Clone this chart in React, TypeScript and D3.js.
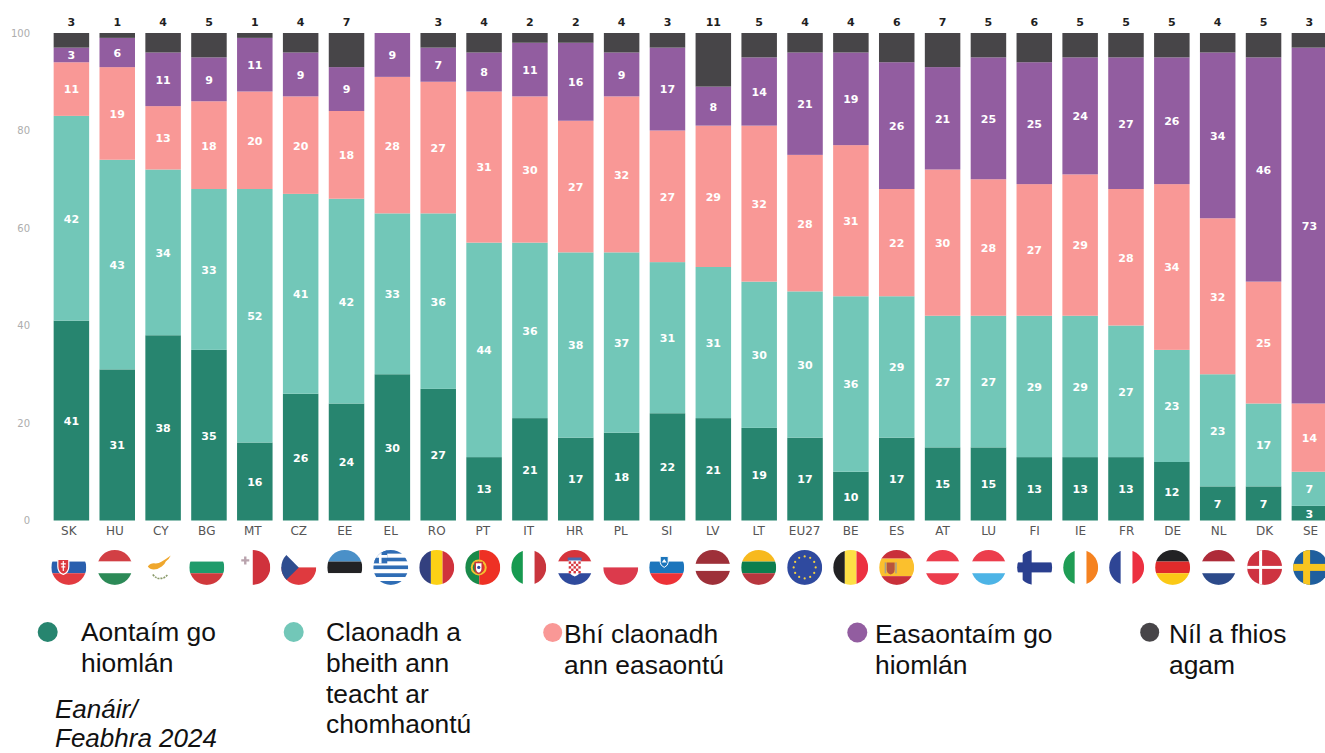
import React from "react";
import * as d3 from "d3";

const countries = ["SK","HU","CY","BG","MT","CZ","EE","EL","RO","PT","IT","HR","PL","SI","LV","LT","EU27","BE","ES","AT","LU","FI","IE","FR","DE","NL","DK","SE"];
const totallyAgree =    [41,31,38,35,16,26,24,30,27,13,21,17,18,22,21,19,17,10,17,15,15,13,13,13,12,7,7,3];
const tendToAgree =     [42,43,34,33,52,41,42,33,36,44,36,38,37,31,31,30,30,36,29,27,27,29,29,27,23,23,17,7];
const tendToDisagree =  [11,19,13,18,20,20,18,28,27,31,30,27,32,27,29,32,28,31,22,30,28,27,29,28,34,32,25,14];
const totallyDisagree = [3,6,11,9,11,9,9,9,7,8,11,16,9,17,8,14,21,19,26,21,25,25,24,27,26,34,46,73];
const dontKnow =        [3,1,4,5,1,4,7,0,3,4,2,2,4,3,11,5,4,4,6,7,5,6,5,5,5,4,5,3];
const yTicks = [0,20,40,60,80,100];
const seriesKeys = ["a","b","c","d","e"];
const seriesColors = ["#27856f","#72c7b8","#f99896","#925da0","#474548"];

const legendLabels = [
  { lines: ["Aontaím go","hiomlán"], dot: [47.7,632,10], x: 81, y: 641 },
  { lines: ["Claonadh a","bheith ann","teacht ar","chomhaontú"], dot: [293.7,632,10], x: 326, y: 641 },
  { lines: ["Bhí claonadh","ann easaontú"], dot: [552.7,632.5,9.5], x: 564, y: 643 },
  { lines: ["Easaontaím go","hiomlán"], dot: [857.3,632.5,10], x: 875, y: 643 },
  { lines: ["Níl a fhios","agam"], dot: [1149.7,632.3,9.5], x: 1169, y: 643 },
];
const periodLines = ["Eanáir/","Feabhra 2024"];

type Stripe = { dir: "h" | "v"; colors: string[]; weights?: number[] };
const W = "#ffffff";
const stripes: Record<string, Stripe> = {
  SK: { dir:"h", colors:[W,"#2a5fae","#e23b40"] },
  HU: { dir:"h", colors:["#d23f44",W,"#2c8a57"] },
  CY: { dir:"h", colors:[W] },
  BG: { dir:"h", colors:[W,"#1f9b6b","#d0393c"] },
  MT: { dir:"v", colors:[W,"#d0323c"] },
  CZ: { dir:"h", colors:[W,"#df3a3f"] },
  EE: { dir:"h", colors:["#4a90c8","#222224",W] },
  EL: { dir:"h", colors:["#2f6db5",W,"#2f6db5",W,"#2f6db5",W,"#2f6db5",W,"#2f6db5"] },
  RO: { dir:"v", colors:["#33407f","#fcd116","#d0323c"] },
  PT: { dir:"v", colors:["#1a8a4a","#ee3124"], weights:[2,3] },
  IT: { dir:"v", colors:["#179a50",W,"#c9353d"] },
  HR: { dir:"h", colors:["#d5343c",W,"#2f4a9c"] },
  PL: { dir:"h", colors:[W,"#dc3a4c"] },
  SI: { dir:"h", colors:[W,"#1c75bc","#ed3237"] },
  LV: { dir:"h", colors:["#9e3039",W,"#9e3039"], weights:[2,1,2] },
  LT: { dir:"h", colors:["#f7b91e","#0d7e4e","#b7363e"] },
  EU27: { dir:"h", colors:["#2f4a9f"] },
  BE: { dir:"v", colors:["#222224","#fde046","#ec3040"] },
  ES: { dir:"h", colors:["#c9303a","#fbc02d","#c9303a"], weights:[1,2,1] },
  AT: { dir:"h", colors:["#ec3d4c",W,"#ec3d4c"] },
  LU: { dir:"h", colors:["#ec3d4c",W,"#4db4e6"] },
  FI: { dir:"h", colors:[W] },
  IE: { dir:"v", colors:["#1f9d55",W,"#f58220"] },
  FR: { dir:"v", colors:["#2e4595",W,"#ec3040"] },
  DE: { dir:"h", colors:["#222224","#e02b2b","#fbc916"] },
  NL: { dir:"h", colors:["#ae2b38",W,"#2c4a8a"] },
  DK: { dir:"h", colors:["#ce3340"] },
  SE: { dir:"h", colors:["#1f5f9e"] },
};

const R = 17.5;

function FlagExtras({ code }: { code: string }) {
  switch (code) {
    case "SK":
      return <g>
        <path d="M-11,-8 h11 v7 q0,6 -5.5,8 q-5.5,-2 -5.5,-8z" fill="#dd3a40" stroke="#fff" strokeWidth={1.2}/>
        <path d="M-5.5,-6.5 v10 M-8,-3.5 h5 M-7.5,-0.5 h4" stroke="#fff" strokeWidth={1.2}/>
      </g>;
    case "CY":
      return <g>
        <path d="M-13,-1 q3,-4 8,-3 q3,0 6,-2 q5,-3 9,-6 q-2,4 -5,6 q-1,3 -4,5 q-4,3 -8,3 q-4,0 -6,-3z" fill="#efa72d"/>
        <path d="M-8,7 q4,5 8,4 q4,0 7,-4" fill="none" stroke="#8a9a6a" strokeWidth={1.6} strokeDasharray="2 1"/>
      </g>;
    case "MT":
      return <path d="M-7.5,-11 v8 M-11.5,-7 h8" stroke="#b9a3ad" strokeWidth={2.4}/>;
    case "CZ":
      return <path d="M-18,-18 L0,0 L-18,18z" fill="#2f4d8f"/>;
    case "EL":
      return <g>
        <rect x={-18} y={-18} width={14.5} height={14} fill="#2f6db5"/>
        <path d="M-10.5,-18 v14 M-18,-11 h14.5" stroke="#fff" strokeWidth={2.6}/>
      </g>;
    case "PT":
      return <g>
        <circle cx={-4} cy={0} r={7} fill="none" stroke="#f2c230" strokeWidth={2}/>
        <path d="M-7.5,-5 h7 v6 q0,4 -3.5,5 q-3.5,-1 -3.5,-5z" fill="#fff" stroke="#c9353d" strokeWidth={1.5}/>
        <circle cx={-4} cy={0} r={1.6} fill="#2f4a9c"/>
      </g>;
    case "HR": {
      const cells = d3.cross(d3.range(5), d3.range(5));
      return <g>
        <path d="M-6,-8 h12 v10 q0,5 -6,7 q-6,-2 -6,-7z" fill="#fff"/>
        {cells.map(([i, j]) => (i + j) % 2 === 0
          ? <rect key={`${i}-${j}`} x={-6 + i * 2.4} y={-6 + j * 2.4} width={2.4} height={2.4} fill="#d5343c"/> : null)}
        <path d="M-7,-10 h14 v3 h-14z" fill="#4a6ab0"/>
      </g>;
    }
    case "SI":
      return <g>
        <path d="M-6.5,-11 h8 v6 q0,3 -4,5 q-4,-2 -4,-5z" fill="#1c75bc" stroke="#fff" strokeWidth={1}/>
        <path d="M-5,-5 l2.5,-3.5 l2.5,3.5z" fill="#fff"/>
      </g>;
    case "EU27":
      return <g>
        {d3.range(12).map(i => {
          const a = (i / 12) * 2 * Math.PI;
          return <circle key={i} cx={11 * Math.sin(a)} cy={-11 * Math.cos(a)} r={1.1} fill="#f3d040"/>;
        })}
      </g>;
    case "ES":
      return <g>
        <path d="M-10,-5 h8 v7 q0,4 -4,5 q-4,-1 -4,-5z" fill="#b8553c"/>
        <rect x={-12} y={-5} width={1.6} height={11} fill="#a9a089"/>
        <rect x={-1.5} y={-5} width={1.6} height={11} fill="#a9a089"/>
      </g>;
    case "FI":
      return <g>
        <rect x={-18} y={-5} width={36} height={10} fill="#2a3f8f"/>
        <rect x={-12} y={-18} width={9} height={36} fill="#2a3f8f"/>
      </g>;
    case "DK":
      return <g>
        <rect x={-18} y={-1.5} width={36} height={3} fill="#fff"/>
        <rect x={-5.5} y={-18} width={3} height={36} fill="#fff"/>
      </g>;
    case "SE":
      return <g>
        <rect x={-18} y={-3.5} width={36} height={7} fill="#f7c520"/>
        <rect x={-7.5} y={-18} width={7} height={36} fill="#f7c520"/>
      </g>;
    default:
      return null;
  }
}

function Flag({ code, cx, cy }: { code: string; cx: number; cy: number }) {
  const s = stripes[code];
  const weights = s.weights ?? s.colors.map(() => 1);
  const total = d3.sum(weights);
  const pos = d3.scaleLinear().domain([0, total]).range([-R, R]);
  const cum = d3.cumsum(weights);
  return (
    <g transform={`translate(${cx},${cy})`} clipPath={`url(#flag-clip)`}>
      {s.colors.map((c, i) => {
        const a = pos(i === 0 ? 0 : cum[i - 1]);
        const b = pos(cum[i]);
        return s.dir === "h"
          ? <rect key={i} x={-R} y={a} width={2 * R} height={b - a} fill={c}/>
          : <rect key={i} x={a} y={-R} width={b - a} height={2 * R} fill={c}/>;
      })}
      <FlagExtras code={code}/>
    </g>
  );
}

export default function App() {
  const width = 1325, height = 753;
  const table = countries.map((country, i) => ({
    country, a: totallyAgree[i], b: tendToAgree[i], c: tendToDisagree[i], d: totallyDisagree[i], e: dontKnow[i],
  }));
  const stacked = d3.stack<any>().keys(seriesKeys)(table);

  const y = d3.scaleLinear().domain([0, 100]).range([520.5, 33]);
  const idx = d3.scaleLinear().domain([0, countries.length - 1]);
  const barX = idx.copy().range([71.4, 1309.4]);
  const labelX = idx.copy().range([68.8, 1310.6]);
  const barW = 35.5;

  const valueFont = "'DejaVu Sans', sans-serif";
  const legendFont = "'Liberation Sans', Arial, sans-serif";

  return (
    <svg width={width} height={height} viewBox={`0 0 ${width} ${height}`}
      style={{ position: "absolute", left: 0, top: 0, display: "block", background: "#fff" }}>
      <defs>
        <clipPath id="flag-clip"><circle r={R}/></clipPath>
      </defs>

      {yTicks.map(t => (
        <text key={t} x={30} y={y(t)} dy="0.35em" textAnchor="end" fontFamily={valueFont} fontSize={10} fill="#adadad">{t}</text>
      ))}

      {stacked.map((layer, si) => (
        <g key={layer.key}>
          {layer.map((d, i) => {
            const v = d[1] - d[0];
            if (v <= 0) return null;
            return <rect key={i} x={barX(i) - barW / 2} y={y(d[1])} width={barW} height={y(d[0]) - y(d[1])} fill={seriesColors[si]}/>;
          })}
        </g>
      ))}

      {stacked.slice(0, 4).map(layer => (
        <g key={layer.key}>
          {layer.map((d, i) => {
            const v = d[1] - d[0];
            return <text key={i} x={barX(i)} y={y((d[0] + d[1]) / 2)} dy="0.4em" textAnchor="middle"
              fontFamily={valueFont} fontWeight={700} fontSize={11} fill="#ffffff">{v}</text>;
          })}
        </g>
      ))}

      {dontKnow.map((v, i) => v > 0 ? (
        <text key={i} x={barX(i)} y={22.5} dy="0.36em" textAnchor="middle" fontFamily={valueFont} fontWeight={700} fontSize={11} fill="#1f1f1f">{v}</text>
      ) : null)}

      {countries.map((c, i) => (
        <text key={c} x={labelX(i)} y={530.5} dy="0.36em" textAnchor="middle" fontFamily={valueFont} fontSize={12} fill="#555555">{c}</text>
      ))}

      {countries.map((c, i) => <Flag key={c} code={c} cx={labelX(i)} cy={567.4}/>)}

      {legendLabels.map((l, i) => (
        <g key={i}>
          <circle cx={l.dot[0]} cy={l.dot[1]} r={l.dot[2]} fill={seriesColors[i]}/>
          <text fontFamily={legendFont} fontSize={26.4} fill="#111111">
            {l.lines.map((line, j) => <tspan key={j} x={l.x} y={l.y + j * 30.8}>{line}</tspan>)}
          </text>
        </g>
      ))}
      <text fontFamily={legendFont} fontStyle="italic" fontSize={26} fill="#111111">
        {periodLines.map((line, j) => <tspan key={j} x={55} y={718 + j * 29}>{line}</tspan>)}
      </text>
    </svg>
  );
}
